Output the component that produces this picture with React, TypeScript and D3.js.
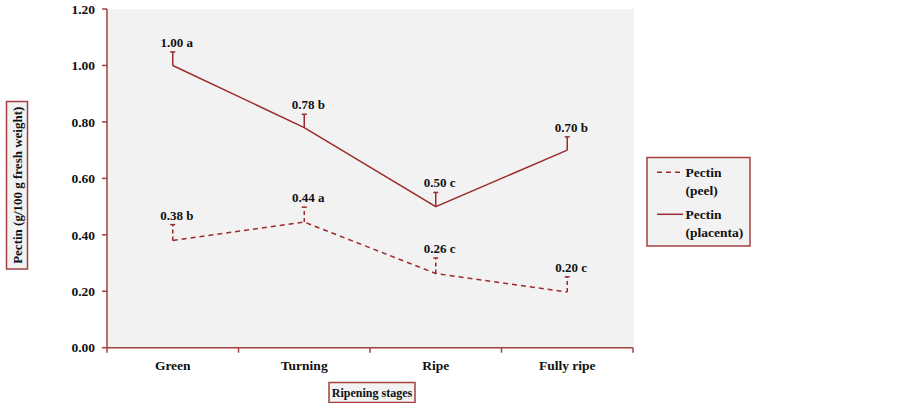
import React from "react";
import * as d3 from "d3";

const categories = ["Green", "Turning", "Ripe", "Fully ripe"];
const placenta = [1.0, 0.78, 0.5, 0.7];
const placentaErr = [0.048, 0.047, 0.05, 0.047];
const placentaLabels = ["1.00 a", "0.78 b", "0.50 c", "0.70 b"];
const peel = [0.38, 0.445, 0.263, 0.197];
const peelErr = [0.056, 0.053, 0.055, 0.054];
const peelLabels = ["0.38 b", "0.44 a", "0.26 c", "0.20 c"];
const yTicks = [0, 0.2, 0.4, 0.6, 0.8, 1.0, 1.2];

const W = 903;
const H = 403;
const left = 107;
const right = 633;
const top = 9;
const bottom = 347.7;
const axisColor = "#A3403F";
const lineColor = "#9B2B2C";
const font = "'Liberation Serif', 'DejaVu Serif', serif";

export default function App() {
  const x = d3.scaleBand<string>().domain(categories).range([left, right]);
  const y = d3.scaleLinear().domain([0, 1.2]).range([bottom, top]);
  const cx = (c: string) => (x(c) as number) + x.bandwidth() / 2;
  const line = d3
    .line<number>()
    .x((_, i) => cx(categories[i]))
    .y((d) => y(d));

  const series = [
    { vals: placenta, err: placentaErr, labels: placentaLabels, dash: undefined as string | undefined },
    { vals: peel, err: peelErr, labels: peelLabels, dash: "5,4" },
  ];

  const boundaries = d3.range(categories.length + 1).map((i) => left + i * x.step());

  return (
    <svg
      width={W}
      height={H}
      style={{ position: "absolute", left: 0, top: 0, background: "#fff" }}
      fontFamily={font}
    >
      <rect x={left} y={top} width={right - left + 1} height={bottom - top} fill="#F2F2F2" />
      {/* y axis */}
      <line x1={left} x2={left} y1={top} y2={bottom} stroke={axisColor} strokeWidth={1.5} />
      {yTicks.map((t) => (
        <g key={t}>
          <line x1={left - 5} x2={left} y1={y(t)} y2={y(t)} stroke={axisColor} strokeWidth={1.5} />
          <text x={95} y={y(t)} dy="0.35em" textAnchor="end" fontSize={13.5} fontWeight="bold" fill="#111">
            {t.toFixed(2)}
          </text>
        </g>
      ))}
      {/* x axis */}
      <line x1={left} x2={right} y1={bottom} y2={bottom} stroke={axisColor} strokeWidth={1.5} />
      {boundaries.map((b, i) => (
        <line key={i} x1={b} x2={b} y1={bottom} y2={bottom + 5} stroke={axisColor} strokeWidth={1.5} />
      ))}
      {categories.map((c) => (
        <text key={c} x={cx(c)} y={370} textAnchor="middle" fontSize={13.5} fontWeight="bold" fill="#111">
          {c}
        </text>
      ))}
      {/* series */}
      {series.map((s, si) => (
        <g key={si}>
          <path d={line(s.vals) || ""} fill="none" stroke={lineColor} strokeWidth={1.5} strokeDasharray={s.dash} />
          {s.vals.map((v, i) => {
            const px = cx(categories[i]);
            const yt = y(v + s.err[i]);
            return (
              <g key={i}>
                <line x1={px} x2={px} y1={y(v)} y2={yt} stroke={lineColor} strokeWidth={1.5} strokeDasharray={s.dash ? "4,3" : undefined} />
                <line x1={px - 2.5} x2={px + 2.5} y1={yt} y2={yt} stroke={lineColor} strokeWidth={1.5} />
                <text x={px + 4} y={yt - 5} textAnchor="middle" fontSize={13} fontWeight="bold" fill="#111">
                  {s.labels[i]}
                </text>
              </g>
            );
          })}
        </g>
      ))}
      {/* x title */}
      <rect x={329} y={382.5} width={86} height={20} fill="#F2F2F2" stroke={axisColor} strokeWidth={1.5} />
      <text x={372} y={397} textAnchor="middle" fontSize={12} fontWeight="bold" fill="#111">
        Ripening stages
      </text>
      {/* y title */}
      <rect x={6.5} y={101.5} width={21} height={167.5} fill="#F2F2F2" stroke={axisColor} strokeWidth={1.5} />
      <text
        transform={`translate(21.5,185.25) rotate(-90)`}
        textAnchor="middle"
        fontSize={13}
        fontWeight="bold"
        fill="#111"
      >
        Pectin (g/100 g fresh weight)
      </text>
      {/* legend */}
      <rect x={647} y={157.5} width={103} height={88.5} fill="#F2F2F2" stroke={axisColor} strokeWidth={1.5} />
      <line x1={657} x2={683} y1={172.3} y2={172.3} stroke={lineColor} strokeWidth={1.5} strokeDasharray="5,4" />
      <text x={685.5} y={177} fontSize={13.5} fontWeight="bold" fill="#111">Pectin</text>
      <text x={685.5} y={195} fontSize={13.5} fontWeight="bold" fill="#111">(peel)</text>
      <line x1={657} x2={683} y1={214.3} y2={214.3} stroke={lineColor} strokeWidth={1.5} />
      <text x={685.5} y={219} fontSize={13.5} fontWeight="bold" fill="#111">Pectin</text>
      <text x={685.5} y={237} fontSize={13.5} fontWeight="bold" fill="#111">(placenta)</text>
    </svg>
  );
}
